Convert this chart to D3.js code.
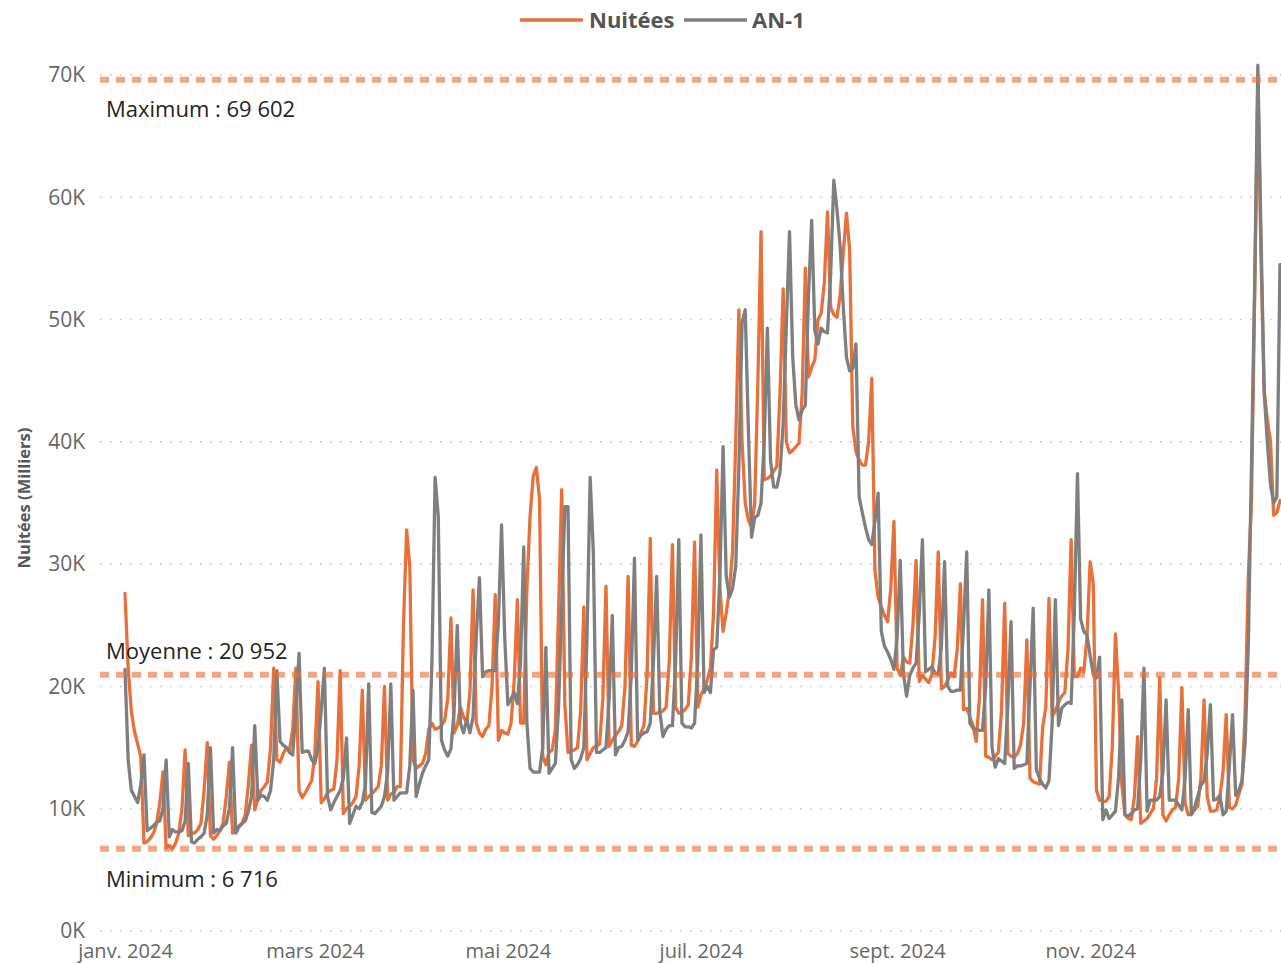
<!DOCTYPE html>
<html>
<head>
<meta charset="utf-8">
<script src="https://cdn.jsdelivr.net/npm/d3@7/dist/d3.min.js"></script>
<style>
  body { margin: 0; background: #fff; }
  svg { display: block; font-family: "Segoe UI", "Open Sans", sans-serif; }
</style>
</head>
<body>
<div id="chart"></div>
<script>
// daily values, in thousands, one row per week (Mon -> Sun), from 1 Jan 2024
var startDate = new Date(Date.UTC(2024, 0, 1));
var endDate = new Date(Date.UTC(2024, 11, 31));

var nuitees = [
  27.6, 21.5, 18.0, 16.3, 15.3, 14.2, 7.2,
  7.3, 7.6, 8.0, 8.8, 10.5, 13.0, 6.8,
  7.0, 6.716, 7.2, 8.0, 10.0, 14.8, 7.8,
  8.0, 8.0, 8.3, 8.8, 11.5, 15.4, 7.8,
  7.5, 7.8, 8.2, 8.8, 11.0, 13.8, 8.0,
  8.3, 8.6, 8.8, 9.5, 12.0, 15.2, 9.9,
  10.8, 11.5, 11.8, 12.2, 15.0, 21.5, 14.0,
  13.8, 14.5, 15.0, 14.8, 16.5, 21.5, 11.5,
  10.9, 11.3, 11.8, 12.3, 14.5, 20.4, 10.5,
  10.8, 11.3, 11.5, 11.6, 14.0, 21.3, 9.6,
  10.0, 10.2, 10.5, 11.0, 13.5, 19.7, 10.7,
  11.0, 11.2, 11.5, 11.8, 13.5, 20.0, 10.7,
  11.2, 11.3, 11.8, 11.8, 25.0, 32.8, 29.8,
  14.0, 13.3, 13.5, 13.7, 14.5, 16.5, 17.0,
  16.5, 16.6, 16.8, 17.2, 19.0, 25.6, 16.2,
  16.8, 18.3, 17.5, 17.0, 19.5, 27.9, 17.0,
  16.2, 15.9, 16.5, 16.8, 20.0, 27.5, 15.6,
  16.4, 16.2, 16.1, 17.0, 20.5, 27.1, 17.0,
  17.0, 28.0, 33.9, 37.2, 37.9, 35.3, 14.3,
  13.6, 14.6, 14.8, 16.5, 26.0, 36.1, 18.5,
  14.6, 14.7, 14.8, 15.0, 18.0, 26.5, 14.0,
  14.5, 15.0, 15.1, 15.3, 19.0, 28.2, 15.1,
  15.6, 16.0, 16.3, 16.8, 20.0, 29.0, 15.2,
  15.1, 15.5, 16.2, 16.8, 21.0, 32.1, 17.8,
  17.8, 17.9, 18.0, 18.3, 22.0, 31.6, 18.3,
  17.8, 17.9, 18.1, 18.5, 22.5, 31.8, 18.3,
  19.3, 19.8, 20.5, 21.5, 26.0, 37.7, 28.0,
  24.5, 26.0, 27.9, 31.0, 40.0, 50.8, 40.0,
  35.0, 33.6, 33.0, 35.0, 45.0, 57.2, 36.9,
  37.0, 37.2, 37.6, 38.0, 44.0, 52.5, 40.0,
  39.1, 39.3, 39.6, 39.9, 44.0, 54.2, 45.3,
  46.1, 46.7, 50.0, 50.5, 53.0, 58.8, 51.0,
  50.4, 50.2, 52.0, 55.5, 58.7, 55.7, 41.2,
  39.2, 38.5, 38.1, 38.1, 40.0, 45.2, 29.5,
  27.3, 26.5, 25.8, 25.3, 28.0, 33.5, 21.5,
  20.9, 22.4, 22.0, 21.9, 25.0, 30.3, 20.4,
  20.9, 20.6, 20.3, 21.0, 24.0, 31.0, 19.8,
  20.0, 20.5, 21.1, 20.8, 23.0, 28.4, 18.1,
  18.2, 17.5, 16.8, 15.5, 19.0, 27.1, 14.3,
  14.2, 14.0, 14.3, 14.6, 18.0, 26.8, 14.5,
  14.3, 14.2, 14.5, 15.2, 17.0, 23.8, 12.5,
  12.2, 12.1, 12.0, 16.7, 18.3, 27.2, 17.5,
  18.0, 18.7, 19.2, 19.5, 23.0, 32.0, 20.8,
  20.8, 21.5, 21.2, 24.0, 30.2, 28.4, 11.5,
  10.7, 10.6, 10.6, 11.0, 15.0, 24.3, 19.5,
  12.0, 9.5, 9.2, 9.1, 11.0, 15.9, 8.8,
  9.0, 9.2, 9.6, 10.0, 12.5, 20.7, 9.5,
  9.0, 9.5, 9.9, 10.1, 12.5, 19.9, 10.5,
  9.5, 9.6, 9.9, 10.2, 12.5, 18.9, 11.0,
  9.8, 9.8, 9.9, 11.0, 13.0, 17.7, 10.1,
  10.0, 10.3, 11.2, 12.0, 18.0, 29.1, 35.2,
  52.0, 69.602, 55.0, 44.2, 41.8, 40.0, 34.0,
  34.2, 35.2
];

var an1 = [
  21.4, 14.0, 11.5, 11.0, 10.5, 12.0, 14.4,
  8.2, 8.4, 8.6, 8.9, 9.0, 10.0, 14.0,
  7.7, 8.3, 8.1, 8.1, 8.2, 9.0, 13.7,
  7.3, 7.2, 7.5, 7.7, 8.0, 9.5, 15.0,
  8.0, 8.3, 8.2, 8.6, 8.8, 10.0, 15.0,
  8.0, 8.5, 8.8, 9.0, 9.8, 11.0, 16.8,
  10.7, 11.1, 11.0, 10.7, 11.5, 14.0, 21.3,
  15.5, 15.2, 15.0, 14.6, 14.4, 18.0, 22.7,
  14.6, 14.7, 14.7, 14.0, 13.7, 15.0, 18.0,
  21.5, 11.0, 9.9, 10.5, 11.0, 11.5, 12.5,
  15.8, 8.8, 9.5, 10.2, 10.0, 10.5, 12.0,
  20.2, 9.7, 9.6, 9.9, 10.2, 11.0, 13.0,
  20.2, 10.7, 11.0, 11.3, 11.3, 11.3, 13.5,
  19.7, 11.0, 12.0, 12.9, 13.5, 14.0, 22.0,
  37.1, 33.9, 15.6, 14.8, 14.3, 14.9, 18.0,
  25.0, 17.0, 16.2, 17.3, 16.2, 17.5, 24.0,
  28.9, 20.8, 21.2, 21.3, 21.3, 21.3, 25.3,
  33.2, 24.0, 18.5, 19.0, 19.5, 18.6, 22.0,
  31.4, 17.0, 13.3, 13.0, 13.0, 13.0, 15.0,
  23.2, 12.9, 13.3, 13.7, 18.2, 26.5, 34.7,
  34.7, 14.0, 13.3, 13.6, 14.1, 15.0, 24.0,
  37.1, 31.0, 14.6, 14.6, 14.8, 15.0, 19.0,
  25.8, 14.4, 15.0, 15.1, 15.6, 16.3, 21.0,
  30.5, 15.6, 16.0, 16.2, 16.3, 17.0, 22.0,
  29.0, 18.0, 15.9, 16.5, 16.8, 16.8, 22.0,
  32.0, 17.0, 16.7, 16.7, 16.6, 17.0, 22.0,
  32.4, 19.5, 20.0, 19.5, 23.0, 23.2, 29.0,
  39.6, 29.0, 27.3, 28.0, 29.8, 38.0, 49.7,
  50.8, 41.0, 32.2, 33.8, 34.0, 35.0, 40.0,
  49.3, 38.5, 36.3, 36.3, 37.5, 41.5, 49.6,
  57.2, 47.0, 43.0, 41.8, 42.6, 43.0, 52.0,
  58.1, 49.1, 48.0, 49.3, 49.0, 48.9, 53.7,
  61.4, 59.0, 56.0, 51.0, 46.9, 45.8, 46.0,
  48.0, 35.5, 34.2, 33.0, 32.0, 31.6, 33.5,
  35.8, 24.5, 23.3, 22.8, 22.2, 21.4, 24.0,
  30.3, 21.0, 19.2, 20.9, 21.5, 21.9, 26.0,
  32.0, 21.2, 21.4, 21.6, 21.1, 21.0, 23.3,
  30.2, 20.0, 19.6, 19.6, 19.7, 19.7, 25.0,
  31.0, 17.0, 16.6, 16.5, 16.4, 16.4, 20.0,
  27.9, 15.0, 13.4, 14.1, 13.9, 13.7, 18.5,
  25.3, 13.3, 13.5, 13.5, 13.6, 13.7, 20.0,
  26.4, 13.2, 12.5, 12.0, 11.7, 12.3, 17.0,
  27.1, 16.8, 18.2, 18.5, 18.7, 18.6, 26.0,
  37.4, 25.5, 24.5, 24.2, 22.5, 21.0, 20.7,
  22.4, 9.1, 9.9, 9.2, 9.5, 9.8, 12.6,
  18.9, 9.5, 9.4, 9.6, 9.9, 10.0, 14.0,
  21.5, 9.8, 10.7, 10.7, 10.7, 11.0, 13.0,
  18.9, 10.7, 10.7, 10.7, 10.3, 9.9, 12.5,
  18.1, 9.5, 10.1, 11.0, 11.9, 12.3, 14.5,
  18.5, 10.7, 10.8, 11.1, 9.5, 9.8, 13.5,
  17.7, 11.1, 11.5, 12.3, 15.5, 23.5, 38.5,
  53.0, 70.8, 57.0, 44.0, 40.0, 36.5, 35.0,
  35.5, 54.5
];

var seriesNames = ["Nuitées", "AN-1"];
var seriesColors = ["#E8703A", "#7F7F7F"];

var yTicks = [0, 10000, 20000, 30000, 40000, 50000, 60000, 70000];
var xTickDates = ["2024-01-01", "2024-03-01", "2024-05-01", "2024-07-01", "2024-09-01", "2024-11-01"];
var xTickLabels = ["janv. 2024", "mars 2024", "mai 2024", "juil. 2024", "sept. 2024", "nov. 2024"];

var refLabels = ["Maximum : 69 602", "Moyenne : 20 952", "Minimum : 6 716"];
var refValues = [69602, 20952, 6716];
var refLabelDy = [37, -16, 38];

var w = 1281, h = 963;
var plotLeft = 100, plotRight = 1281;

var svg = d3.select("#chart").append("svg")
  .attr("width", w)
  .attr("height", h);

var x = d3.scaleUtc()
  .domain([startDate, endDate])
  .range([125, 1280]);

var y = d3.scaleLinear()
  .domain([0, 70000])
  .range([931, 75]);

var dates = nuitees.map(function(d, i){ return d3.utcDay.offset(startDate, i); });

// gridlines
svg.append("g")
  .selectAll("line")
  .data(yTicks)
  .enter()
  .append("line")
  .attr("x1", plotLeft)
  .attr("x2", plotRight)
  .attr("y1", function(d){ return y(d); })
  .attr("y2", function(d){ return y(d); })
  .attr("stroke", "#c8c8c8")
  .attr("stroke-width", 1.6)
  .attr("stroke-dasharray", "1.6,8.4");

// y axis
var yAxis = svg.append("g")
  .attr("transform", "translate(" + plotLeft + ",0)")
  .call(d3.axisLeft(y).tickValues(yTicks).tickSize(0).tickPadding(15)
    .tickFormat(function(d){ return (d / 1000) + "K"; }));
yAxis.select(".domain").remove();
yAxis.selectAll("text")
  .attr("fill", "#666")
  .style("font-size", "21px")
  .style("font-family", "'Segoe UI', 'Open Sans', sans-serif");

// x axis
var xAxis = svg.append("g")
  .attr("transform", "translate(0,931)")
  .call(d3.axisBottom(x)
    .tickValues(xTickDates.map(function(s){ return new Date(s + "T00:00:00Z"); }))
    .tickSize(0).tickPadding(13)
    .tickFormat(function(d, i){ return xTickLabels[i]; }));
xAxis.select(".domain").remove();
xAxis.selectAll("text")
  .attr("fill", "#666")
  .style("font-size", "20px")
  .style("font-family", "'Segoe UI', 'Open Sans', sans-serif");

// y axis title
svg.append("text")
  .attr("transform", "translate(30,498) rotate(-90)")
  .attr("text-anchor", "middle")
  .attr("fill", "#555")
  .style("font-size", "16.5px")
  .style("font-weight", "bold")
  .text("Nuitées (Milliers)");

// series
var line = d3.line()
  .x(function(d, i){ return x(dates[i]); })
  .y(function(d){ return y(d * 1000); });

[nuitees, an1].forEach(function(values, k){
  svg.append("path")
    .datum(values)
    .attr("d", line)
    .attr("fill", "none")
    .attr("stroke", seriesColors[k])
    .attr("stroke-width", 3.3)
    .attr("stroke-linejoin", "round")
    .attr("stroke-linecap", "round");
});

// reference lines
var refs = svg.append("g")
  .selectAll("g")
  .data(refValues)
  .enter()
  .append("g");

refs.append("line")
  .attr("x1", plotLeft)
  .attr("x2", plotRight)
  .attr("y1", function(d){ return y(d); })
  .attr("y2", function(d){ return y(d); })
  .attr("stroke", "#E8703A")
  .attr("stroke-opacity", 0.62)
  .attr("stroke-width", 6)
  .attr("stroke-dasharray", "9,7");

refs.append("text")
  .attr("x", 106)
  .attr("y", function(d, i){ return y(d) + refLabelDy[i]; })
  .attr("fill", "#252423")
  .style("font-size", "22px")
  .text(function(d, i){ return refLabels[i]; });

// legend
var legend = svg.append("g");
var legendX = [520, 684];
var legendTextX = [589, 752];
seriesNames.forEach(function(name, k){
  legend.append("line")
    .attr("x1", legendX[k])
    .attr("x2", legendX[k] + 63)
    .attr("y1", 20)
    .attr("y2", 20)
    .attr("stroke", seriesColors[k])
    .attr("stroke-width", 3.5);
  legend.append("text")
    .attr("x", legendTextX[k])
    .attr("y", 28)
    .attr("fill", "#555")
    .style("font-size", "22px")
    .style("font-weight", "bold")
    .text(name);
});
</script>
</body>
</html>
